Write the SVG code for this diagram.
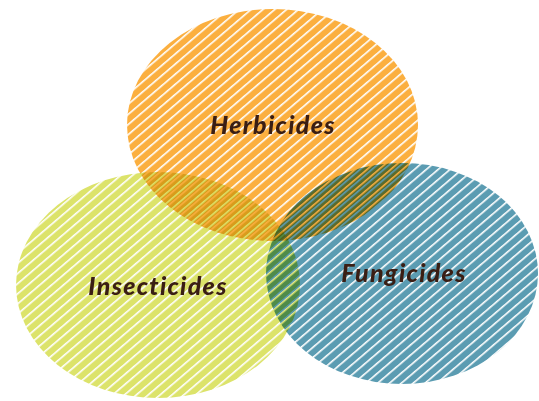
<svg xmlns="http://www.w3.org/2000/svg" width="539" height="401" viewBox="0 0 539 401">
<style>
.set{mix-blend-mode:multiply}
.lbl{font-family:Lato,"Open Sans","Liberation Sans",sans-serif;font-weight:900;font-style:italic;font-size:25px;letter-spacing:1.3px;font-variant-ligatures:none;fill:#3a1e14;text-anchor:middle}
</style>
<defs>
<pattern id="pO" patternUnits="userSpaceOnUse" width="20" height="7.7" patternTransform="rotate(-40.5)">
<rect width="20" height="7.7" fill="#fbaf3f"/><rect y="0" width="20" height="1.6" fill="#fff"/>
</pattern>
<pattern id="pY" patternUnits="userSpaceOnUse" width="20" height="7.7" patternTransform="rotate(-40.5) translate(0,3)">
<rect width="20" height="7.7" fill="#dce36a"/><rect y="0" width="20" height="1.6" fill="#fff"/>
</pattern>
<pattern id="pT" patternUnits="userSpaceOnUse" width="20" height="7.7" patternTransform="rotate(-40.5) translate(0,4.5)">
<rect width="20" height="7.7" fill="#5b9cb2"/><rect y="0" width="20" height="1.6" fill="#fff"/>
</pattern>
</defs>
<g id="insecticides" class="set"><ellipse cx="158" cy="285" rx="142" ry="113" fill="url(#pY)"/></g>
<g id="herbicides" class="set"><ellipse cx="272.5" cy="125" rx="145.5" ry="116" fill="url(#pO)"/></g>
<g id="fungicides" class="set"><ellipse cx="402" cy="273.5" rx="136" ry="110.5" fill="url(#pT)"/></g>
<g id="connectors"></g>
<g id="labels">
<text class="lbl" x="273" y="134">Herbicides</text>
<text class="lbl" x="158" y="295">Insecticides</text>
<text class="lbl" x="404" y="282">Fungicides</text>
</g>
</svg>
